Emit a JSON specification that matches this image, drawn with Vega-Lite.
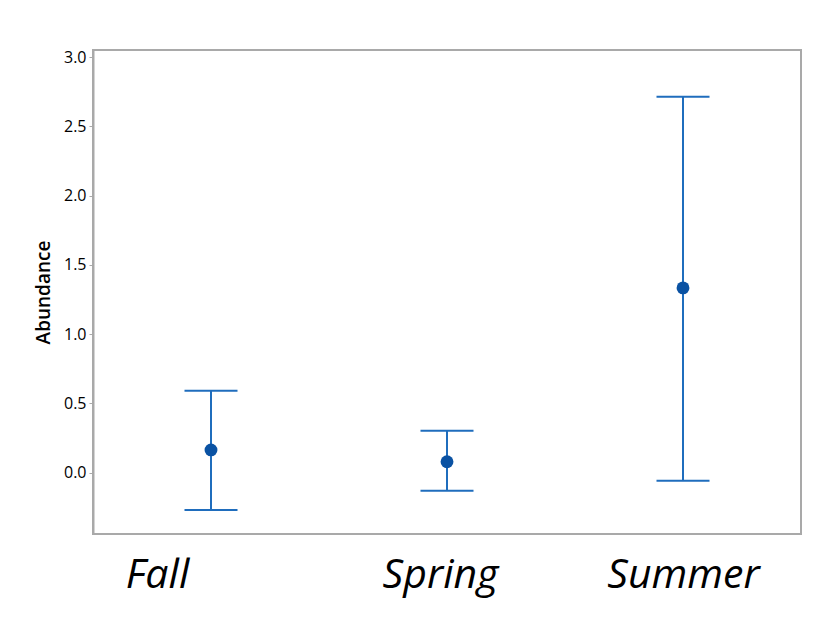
{
  "$schema": "https://vega.github.io/schema/vega-lite/v6.json",
  "autosize": {"type": "none"},
  "padding": {"left": 93, "top": 50, "right": 26, "bottom": 84},
  "width": 708,
  "height": 484,
  "background": "white",
  "config": {
    "view": {"stroke": "#a9a9a9", "strokeWidth": 2},
    "axis": {"grid": false}
  },
  "data": {
    "values": [
      {"season": "Fall", "mean": 0.164, "lower": -0.269, "upper": 0.592},
      {"season": "Spring", "mean": 0.079, "lower": -0.130, "upper": 0.303},
      {"season": "Summer", "mean": 1.334, "lower": -0.058, "upper": 2.715}
    ]
  },
  "encoding": {
    "x": {
      "field": "season",
      "type": "nominal",
      "sort": ["Fall", "Spring", "Summer"],
      "scale": {"type": "point", "padding": 0.5},
      "axis": {
        "title": null,
        "domain": false,
        "ticks": false,
        "labelAngle": 0,
        "labelFont": "Open Sans",
        "labelFontSize": 41,
        "labelFontStyle": "italic",
        "labelColor": "black",
        "labelBaseline": "alphabetic",
        "labelPadding": 53,
        "labelOffset": {"condition": [{"test": "datum.value == 'Fall'", "value": -54}, {"test": "datum.value == 'Spring'", "value": -7}], "value": 0}
      }
    }
  },
  "layer": [
    {
      "mark": {"type": "rule", "color": "#1f6dbd", "strokeWidth": 2},
      "encoding": {
        "y": {
          "field": "lower",
          "type": "quantitative",
          "scale": {"domain": [-0.443, 3.052], "nice": false, "zero": false},
          "axis": {
            "title": "Abundance",
            "titleFont": "Open Sans",
            "titleFontSize": 19,
            "titleFontWeight": 600,
            "titleColor": "black",
            "titlePadding": 10,
            "values": [0, 0.5, 1, 1.5, 2, 2.5, 3],
            "format": ".1f",
            "labelFont": "Open Sans",
            "labelFontSize": 16,
            "labelColor": "black",
            "labelPadding": 3,
            "tickSize": 4,
            "tickColor": "#a9a9a9",
            "domainColor": "#a9a9a9",
            "domainWidth": 2
          }
        },
        "y2": {"field": "upper"}
      }
    },
    {
      "mark": {"type": "tick", "color": "#1f6dbd", "size": 53, "thickness": 2, "orient": "horizontal", "opacity": 1},
      "encoding": {"y": {"field": "upper", "type": "quantitative"}}
    },
    {
      "mark": {"type": "tick", "color": "#1f6dbd", "size": 53, "thickness": 2, "orient": "horizontal", "opacity": 1},
      "encoding": {"y": {"field": "lower", "type": "quantitative"}}
    },
    {
      "mark": {"type": "point", "filled": true, "color": "#0a52a3", "size": 165, "opacity": 1},
      "encoding": {"y": {"field": "mean", "type": "quantitative"}}
    }
  ]
}
